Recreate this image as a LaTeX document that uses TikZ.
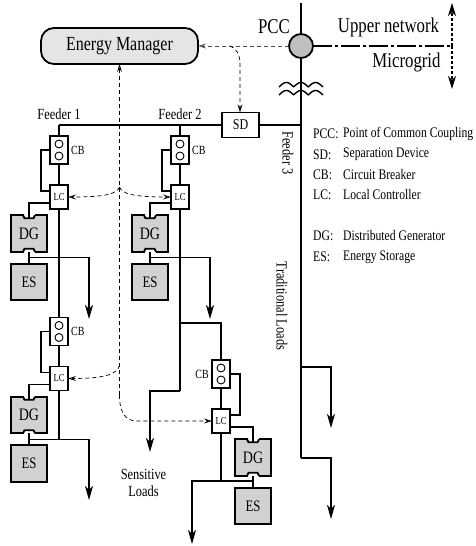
\documentclass[tikz,border=0pt]{standalone}
\usepackage{fontspec}
\setmainfont[FakeStretch=0.8]{Liberation Serif}
\usetikzlibrary{arrows.meta, positioning, calc}

% two breaker contacts inside a CB box
\newcommand{\cbdots}[1]{%
  \node[cbdot] (#1a) at ([yshift=6pt]#1.center) {};
  \node[cbdot] (#1b) at ([yshift=-6pt]#1.center) {};
}
% notches in the top and bottom edge of a DG box
\newcommand{\dgnotch}[1]{%
  \fill[white] ([xshift=-5.5pt,yshift=1.5pt]#1.north) rectangle ([xshift=5.5pt,yshift=-2.5pt]#1.north);
  \fill[white] ([xshift=-5.5pt,yshift=-1.5pt]#1.south) rectangle ([xshift=5.5pt,yshift=2.5pt]#1.south);
  \draw[box] ([xshift=-6pt]#1.north) -- ++(1.5,3) -- ++(9,0) -- ++(1.5,-3);
  \draw[box] ([xshift=-6pt]#1.south) -- ++(1.5,-3) -- ++(9,0) -- ++(1.5,3);
}

\begin{document}
\begin{tikzpicture}[x=1pt, y=-1pt,
    box/.style={line width=1.8pt},
    wire/.style={line width=1.9pt},
    thinwire/.style={line width=1.3pt},
    cbbox/.style={draw, line width=1.4pt, fill=white, minimum width=18pt, minimum height=28pt, inner sep=0pt, outer sep=0pt},
    cbdot/.style={draw, line width=0.9pt, circle, minimum size=8pt, inner sep=0pt},
    lcbox/.style={draw, line width=1.4pt, fill=white, minimum width=18pt, minimum height=24pt, inner sep=0pt, outer sep=0pt, font=\fontsize{10.7}{10.7}\selectfont},
    dgbox/.style={draw, box, fill=black!18, minimum width=36pt, minimum height=36.5pt, inner sep=0pt, outer sep=0pt, font=\fontsize{17.5}{17.5}\selectfont},
    esbox/.style={dgbox, font=\fontsize{16}{16}\selectfont},
    lbl/.style={inner sep=0pt, font=\fontsize{15.5}{15.5}\selectfont},
    cblbl/.style={inner sep=0pt, font=\fontsize{12.5}{12.5}\selectfont},
    biglbl/.style={inner sep=0pt, font=\fontsize{21}{21}\selectfont},
    legend/.style={inner sep=0pt, anchor=west, font=\fontsize{14.6}{14.6}\selectfont},
    load/.style={thinwire, -{Stealth[length=14pt, width=8pt, inset=4pt]}},
    signal/.style={line width=0.7pt, dash pattern=on 4pt off 3pt, -{Stealth[open, length=8pt, width=5pt, inset=3pt]}}]

    \useasboundingbox (0,0) rectangle (476,546);

    % Energy manager and upper network side
    \node[draw, box, fill=black!10, rounded corners=13pt, minimum width=157pt, minimum height=36pt, inner sep=0pt, outer sep=0pt, font=\fontsize{20}{20}\selectfont] (emgr) at (119.5,46) {Energy Manager};
    \node[circle, draw, line width=1.8pt, fill=black!25, minimum size=24pt, inner sep=0pt, outer sep=0pt] (pcc) at (301,46) {};
    \node[biglbl] (pcclbl) at (274,27) {PCC};
    \node[biglbl] (upnet) at (388.5,27) {Upper network};
    \node[biglbl] (ugrid) at (406.5,62) {Microgrid};

    \coordinate (top) at (301,3);
    \coordinate (split) at (452,46);
    \coordinate (splitup) at (452,3);
    \coordinate (splitdn) at (452,89);
    \draw[wire] (top) -- (pcc.north);
    \draw[line width=1.4pt, dash pattern=on 19pt off 3pt on 3pt off 3pt] (pcc.east) -- (split);
    \draw[line width=1.1pt, densely dashed, -{Stealth[length=13pt, width=8pt, inset=4pt]}] (split) -- (splitup);
    \draw[line width=1.1pt, densely dashed, -{Stealth[length=13pt, width=8pt, inset=4pt]}] (split) -- (splitdn);

    % Transformer
    \draw[line width=1.4pt] plot[domain=279:323, samples=60] (\x,{87-4.5*abs(sin(12.3*(\x-279)))});
    \draw[line width=1.4pt] plot[domain=279:323, samples=60] (\x,{95-4.5*abs(sin(12.3*(\x-279)))});

    % Separation device and buses
    \node[draw, box, fill=white, minimum width=37pt, minimum height=25pt, inner sep=0pt, outer sep=0pt, font=\fontsize{15}{15}\selectfont] (sd) at (240.5,125) {SD};
    \coordinate (fd1) at (59,125);
    \coordinate (fd2) at (180,125);
    \coordinate (fd3) at (301,125);
    \coordinate (fd3end) at (301,458);
    \draw[wire] (pcc.south) -- (fd3) -- (fd3end);
    \draw[wire] (sd.east) -- (fd3);
    \draw[wire] (sd.west) -- (fd1);
    \node[lbl, above=5pt of fd1] (fd1lbl) {Feeder 1};
    \node[lbl, above=5pt of fd2] (fd2lbl) {Feeder 2};
    \node[lbl, rotate=-90] (fd3lbl) at (288,153) {Feeder 3};
    \node[lbl, rotate=-90] (tradlbl) at (282,306) {Traditional Loads};

    % Traditional loads
    \coordinate (tl1) at (301,367);
    \coordinate (tl1end) at (331,428);
    \coordinate (tl2) at (301,458);
    \coordinate (tl2end) at (331,519);
    \draw[load] (tl1) -| (tl1end);
    \draw[load] (tl2) -| (tl2end);

    % Feeder 1, upper unit
    \node[cbbox] (cb1) at (59,150) {};
    \cbdots{cb1}
    \node[lcbox, below=21pt of cb1] (lc1) {LC};
    \node[dgbox] (dg1) at (29,233.5) {DG};
    \dgnotch{dg1}
    \node[esbox, below=12pt of dg1] (es1) {ES};
    \node[cblbl, right=3pt of cb1] (cb1lbl) {CB};
    \coordinate (tap1) at ($(dg1.south)!0.5!(es1.north)$);
    \coordinate (load1) at (89,319);

    % Feeder 1, lower unit
    \node[cbbox] (cb2) at (59,331.5) {};
    \cbdots{cb2}
    \node[lcbox, below=21pt of cb2] (lc2) {LC};
    \node[dgbox] (dg2) at (29,415) {DG};
    \dgnotch{dg2}
    \node[esbox, below=12pt of dg2] (es2) {ES};
    \node[cblbl, right=3pt of cb2] (cb2lbl) {CB};
    \coordinate (tap2) at ($(dg2.south)!0.5!(es2.north)$);
    \coordinate (tap2x) at (59,439);
    \coordinate (load2) at (89,500);

    \draw[wire] (fd1) -- (cb1.north);
    \draw[wire] (cb1.south) -- (lc1.north);
    \draw[wire] (lc1.south) -- (cb2.north);
    \draw[wire] (cb2.south) -- (lc2.north);
    \draw[wire] (lc2.south) -- (tap2x);
    \draw[load] (tap1) -| (load1);
    \draw[load] (tap2) -| (load2);
    \draw[thinwire] (dg1.south) -- (es1.north);
    \draw[thinwire] (dg2.south) -- (es2.north);
    \draw[thinwire] (cb1.west) -- ++(-9,0) |- ([yshift=6pt]lc1.west);
    \draw[thinwire] (cb2.west) -- ++(-9,0) |- ([yshift=6pt]lc2.west);
    \draw[thinwire] ([yshift=-6pt]lc1.west) -| ([yshift=-3pt]dg1.north);
    \draw[thinwire] ([yshift=-6pt]lc2.west) -| ([yshift=-3pt]dg2.north);

    % Feeder 2, upper unit
    \node[cbbox] (cb3) at (180,150) {};
    \cbdots{cb3}
    \node[lcbox, below=21pt of cb3] (lc3) {LC};
    \node[dgbox] (dg3) at (150,233.5) {DG};
    \dgnotch{dg3}
    \node[esbox, below=12pt of dg3] (es3) {ES};
    \node[cblbl, right=3pt of cb3] (cb3lbl) {CB};
    \coordinate (tap3) at ($(dg3.south)!0.5!(es3.north)$);
    \coordinate (load3) at (210,319);
    \coordinate (fd2a) at (180,323);
    \coordinate (fd2b) at (180,391);
    \coordinate (load5) at (150,452);

    % Feeder 2, lower unit
    \node[cbbox] (cb4) at (221,374) {};
    \cbdots{cb4}
    \node[lcbox, below=21pt of cb4] (lc4) {LC};
    \node[dgbox] (dg4) at (253,457.5) {DG};
    \dgnotch{dg4}
    \node[esbox, below=12pt of dg4] (es4) {ES};
    \node[cblbl, left=3pt of cb4] (cb4lbl) {CB};
    \coordinate (tap4) at (221,481);
    \coordinate (load4) at (192,544);

    \draw[wire] (fd2) -- (cb3.north);
    \draw[wire] (cb3.south) -- (lc3.north);
    \draw[wire] (lc3.south) -- (fd2b);
    \draw[load, wire] (fd2b) -| (load5);
    \draw[line width=1.5pt] (fd2a) -| (cb4.north);
    \draw[line width=1.5pt] (cb4.south) -- (lc4.north);
    \draw[line width=1.5pt] (lc4.south) -- (tap4);
    \draw[load] (tap3) -| (load3);
    \draw[load] (tap4 -| dg4.south) -| (load4);
    \draw[thinwire] (dg3.south) -- (es3.north);
    \draw[thinwire] (dg4.south) -- (es4.north);
    \draw[thinwire] (cb3.west) -- ++(-9,0) |- ([yshift=6pt]lc3.west);
    \draw[thinwire] (cb4.east) -- ++(10,0) |- ([yshift=6pt]lc4.east);
    \draw[thinwire] ([yshift=-6pt]lc3.west) -| ([yshift=-3pt]dg3.north);
    \draw[thinwire] ([yshift=-6pt]lc4.east) -| ([yshift=-3pt]dg4.north);

    % Control signals
    \coordinate (bus1) at (119.5,187);
    \coordinate (bus2) at (119.5,365);
    \coordinate (bus3) at (119.5,395);
    \coordinate (sdbr) at (230,46);
    \draw[signal] (bus3) -- (emgr.south);
    \draw[signal] (bus3) .. controls (119.5,412) and (125,421) .. (137,421) -- (lc4.west);
    \draw[signal] (bus1) .. controls (117,194) and (105,197) .. (lc1.east);
    \draw[signal] (bus1) .. controls (122,194) and (134,197) .. (lc3.west);
    \draw[signal] (bus2) .. controls (118,374) and (105,378.5) .. (lc2.east);
    \draw[signal, black!70] (pcc.west) -- (emgr.east);
    \draw[signal] (sdbr) .. controls (236,48) and (240,54) .. (240,64) -- (sd.north -| 240,0);

    % Legend
    \node[legend] (k1) at (313,134) {PCC:};
    \node[legend] (v1) at (343,134) {Point of Common Coupling};
    \node[legend] (k2) at (313,154.5) {SD:};
    \node[legend] (v2) at (343,154.5) {Separation Device};
    \node[legend] (k3) at (313,175) {CB:};
    \node[legend] (v3) at (343,175) {Circuit Breaker};
    \node[legend] (k4) at (313,195) {LC:};
    \node[legend] (v4) at (343,195) {Local Controller};
    \node[legend] (k5) at (313,236) {DG:};
    \node[legend] (v5) at (343,236) {Distributed Generator};
    \node[legend] (k6) at (313,257) {ES:};
    \node[legend] (v6) at (343,257) {Energy Storage};

    \node[lbl, align=center, font=\fontsize{15.5}{17}\selectfont] (senslbl) at (143.5,482.5) {Sensitive\\Loads};
\end{tikzpicture}
\end{document}
